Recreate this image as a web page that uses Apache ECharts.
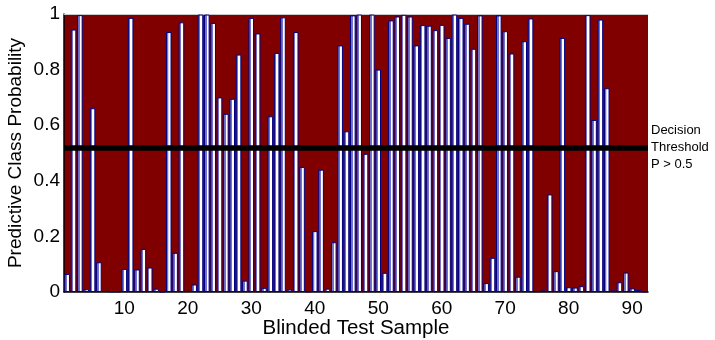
<!DOCTYPE html>
<html>
<head>
<meta charset="utf-8">
<script src="https://cdn.jsdelivr.net/npm/echarts@6/dist/echarts.min.js"></script>
<style>
  html, body { margin: 0; padding: 0; background: #fff; }
  #chart { width: 715px; height: 340px; }
</style>
</head>
<body>
<div id="chart"></div>
<script>
// blinded test samples 1..92
const samples = [
  1, 2, 3, 4, 5, 6, 7, 8, 9, 10, 11, 12, 13, 14, 15, 16, 17, 18, 19, 20,
  21, 22, 23, 24, 25, 26, 27, 28, 29, 30, 31, 32, 33, 34, 35, 36, 37, 38, 39, 40,
  41, 42, 43, 44, 45, 46, 47, 48, 49, 50, 51, 52, 53, 54, 55, 56, 57, 58, 59, 60,
  61, 62, 63, 64, 65, 66, 67, 68, 69, 70, 71, 72, 73, 74, 75, 76, 77, 78, 79, 80,
  81, 82, 83, 84, 85, 86, 87, 88, 89, 90, 91, 92
];

// predictive class probability per sample
const probabilities = [
  0.065, 0.944, 0.996, 0.010, 0.661, 0.107, 0.004, 0.002, 0.002, 0.083,
  0.986, 0.081, 0.155, 0.088, 0.012, 0.001, 0.935, 0.141, 0.970, 0.004,
  0.027, 0.998, 0.998, 0.968, 0.700, 0.641, 0.695, 0.854, 0.041, 0.986,
  0.930, 0.015, 0.632, 0.860, 0.988, 0.009, 0.935, 0.450, 0.002, 0.219,
  0.440, 0.012, 0.179, 0.887, 0.578, 0.995, 0.998, 0.497, 0.998, 0.800,
  0.069, 0.977, 0.991, 0.997, 0.991, 0.887, 0.960, 0.958, 0.942, 0.961,
  0.914, 0.998, 0.986, 0.965, 0.875, 0.995, 0.032, 0.123, 0.995, 0.938,
  0.858, 0.055, 0.902, 0.984, 0.003, 0.006, 0.351, 0.075, 0.914, 0.017,
  0.016, 0.021, 0.996, 0.619, 0.980, 0.733, 0.006, 0.035, 0.070, 0.013,
  0.007, 0.002
];

const yTicks = [0, 0.2, 0.4, 0.6, 0.8, 1];
const xTickSamples = [10, 20, 30, 40, 50, 60, 70, 80, 90];
const threshold = 0.516;

const chart = echarts.init(document.getElementById("chart"));
const font = "'Liberation Sans', Arial, Helvetica, sans-serif";

const option = {
  animation: false,
  grid: {
    left: 64,
    right: 67,
    top: 14,
    bottom: 48,
    outerBoundsMode: "none",
    containLabel: false,
    show: true,
    backgroundColor: "#800000",
    borderWidth: 0,
  },
  xAxis: [
    {
      type: "category",
      data: samples.map(String),
      boundaryGap: true,
      axisLine: { lineStyle: { color: "#000", width: 1.5 } },
      axisTick: { show: false },
      axisLabel: {
        color: "#000",
        fontFamily: font,
        fontSize: 19,
        margin: 7,
        interval: (idx) => xTickSamples.includes(samples[idx]),
      },
      splitLine: { show: false },
      name: "Blinded Test Sample",
      nameLocation: "middle",
      nameGap: 26,
      nameMoveOverlap: false,
      nameTextStyle: { color: "#000", fontFamily: font, fontSize: 20.5 },
    },
    {
      type: "category",
      data: samples.map(String),
      position: "top",
      axisLine: { lineStyle: { color: "#c8c8c8", width: 1 } },
      axisTick: { show: false },
      axisLabel: { show: false },
    },
  ],
  yAxis: {
    type: "value",
    min: yTicks[0],
    max: yTicks[yTicks.length - 1],
    interval: 0.2,
    axisLine: { show: true, lineStyle: { color: "#000", width: 1.5 } },
    axisTick: { show: false },
    splitLine: { show: false },
    axisLabel: {
      color: "#000",
      fontFamily: font,
      fontSize: 19,
      margin: 4,
    },
    name: "Predictive Class Probability",
    nameLocation: "middle",
    nameGap: 39,
    nameMoveOverlap: false,
    nameTextStyle: { color: "#000", fontFamily: font, fontSize: 19 },
  },
  series: [
    {
      name: "Probability",
      type: "bar",
      data: probabilities,
      barWidth: "88%",
      itemStyle: {
        color: new echarts.graphic.LinearGradient(0, 0, 1, 0, [
          { offset: 0, color: "#7373cc" },
          { offset: 0.45, color: "#7373cc" },
          { offset: 0.46, color: "#ffffff" },
          { offset: 1, color: "#ffffff" },
        ]),
        borderColor: "#000080",
        borderWidth: 1,
      },
      markLine: {
        silent: true,
        symbol: "none",
        lineStyle: { color: "#000", width: 5.5, type: "solid" },
        label: {
          show: true,
          position: "end",
          distance: 3,
          formatter: "Decision\nThreshold\nP > 0.5",
          color: "#000",
          fontFamily: font,
          fontSize: 13,
          lineHeight: 17,
          align: "left",
        },
        data: [{ yAxis: threshold }],
      },
    },
  ],
};

chart.setOption(option);
</script>
</body>
</html>
